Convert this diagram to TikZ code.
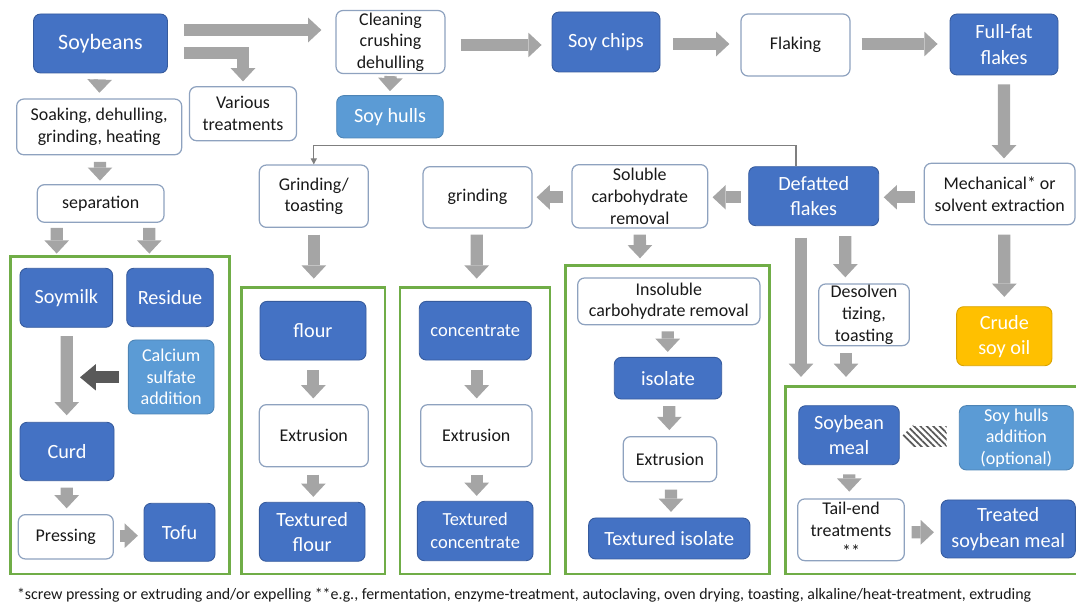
\documentclass[tikz,border=0pt]{standalone}
\usepackage{fontspec}
\setmainfont{Carlito}
\usetikzlibrary{arrows.meta}
\usetikzlibrary{shapes.arrows}
\usetikzlibrary{patterns.meta}
\usetikzlibrary{calc}

\definecolor{prodblue}{HTML}{4472C4}
\definecolor{addblue}{HTML}{5B9BD5}
\definecolor{stepline}{HTML}{8EA2BF}
\definecolor{flowgray}{HTML}{A5A5A5}
\definecolor{darkflow}{HTML}{595959}
\definecolor{framegreen}{HTML}{70AD47}
\definecolor{oilyellow}{HTML}{FFC000}
\definecolor{linkgray}{HTML}{7F7F7F}

\begin{document}
\begin{tikzpicture}[x=0.02cm, y=-0.02cm,
    sz/.style 2 args={minimum width=#1*0.02cm, minimum height=#2*0.02cm},
    box/.style={rectangle, rounded corners=4pt, align=center, inner sep=0pt},
    proc/.style={box, draw=stepline, line width=0.7pt, fill=white, text=black!90,
        font=\fontsize{10.2}{12.3}\selectfont},
    prod/.style={box, draw=prodblue!80!black, line width=0.5pt, fill=prodblue, text=white,
        font=\fontsize{11.5}{14.4}\selectfont},
    addit/.style={box, draw=addblue!85!black, line width=0.5pt, fill=addblue, text=white,
        font=\fontsize{10.3}{12.3}\selectfont},
    oil/.style={box, draw=oilyellow!85!black, line width=0.5pt, fill=oilyellow, text=white,
        font=\fontsize{11.5}{14.2}\selectfont},
    frame/.style={draw=framegreen, line width=1.5pt},
    flow/.style={draw=flowgray, line width=7pt, -{Triangle[length=7.5pt,width=14pt,line width=0pt]}},
    flowdark/.style={flow, draw=darkflow, -{Triangle[length=9pt,width=15pt,line width=0pt]}},
    link/.style={draw=linkgray, line width=0.7pt, -{Triangle[length=3.5pt,width=3.5pt]}},
    hatch/.style={single arrow, shape border rotate=180, draw=none, inner xsep=0pt, inner ysep=0.19cm,
        minimum height=45*0.02cm, single arrow head extend=0.03cm,
        pattern={Lines[angle=-45,distance=2.6pt,line width=1pt]}, pattern color=darkflow}
]
\useasboundingbox (0,0) rectangle (1076,604);

% green frames
\draw[frame] (10.7,256.7) rectangle (229.3,574);
\draw[frame] (241.7,287.3) rectangle (385,574);
\draw[frame] (400,287.3) rectangle (550,574);
\draw[frame] (565.3,265.7) rectangle (769.3,574);
\draw[frame] (1076,386.7) -- (785.3,386.7) -- (785.3,574) -- (1076,574);

% top row
\node[prod, sz={134}{59}, font=\fontsize{12.5}{15}\selectfont] (soy) at (100.5,43.5) {Soybeans};
\node[proc, sz={109}{63}] (clean) at (390.5,42) {Cleaning\\crushing\\dehulling};
\node[addit, sz={106.6}{42.3}, font=\fontsize{11.5}{14}\selectfont] (hulls) at (390,116.8) {Soy hulls};
\node[prod, sz={108}{60}] (chips) at (606,42) {Soy chips};
\node[proc, sz={109}{62}] (flaking) at (795.5,45) {Flaking};
\node[prod, sz={108}{61}] (fullfat) at (1004,44.5) {Full-fat\\flakes};

% second row
\node[proc, sz={150.7}{61.4}] (mech) at (999.65,194) {Mechanical* or\\solvent extraction};
\node[prod, sz={130}{59}] (defat) at (813.7,196.2) {Defatted\\flakes};
\node[proc, sz={135.7}{63.3}] (soluble) at (639.8,196.3) {Soluble\\carbohydrate\\removal};
\node[proc, sz={109}{61.3}] (grind) at (477.5,197.3) {grinding};
\node[proc, sz={109}{62.3}] (gtoast) at (313.8,196.2) {Grinding/\\toasting};
\node[proc, sz={165}{55.7}] (soak) at (99.2,126.9) {Soaking, dehulling,\\grinding, heating};
\node[proc, sz={107}{54}] (various) at (243,113.7) {Various\\treatments};
\node[proc, sz={126.7}{37.6}] (sep) at (100.7,203.5) {separation};

% tofu
\node[prod, sz={92.7}{59}] (soymilk) at (66.3,297.8) {Soymilk};
\node[prod, sz={86.6}{58.4}] (residue) at (170,297.5) {Residue};
\node[addit, sz={85.7}{74}] (calcium) at (171.2,377) {Calcium\\sulfate\\addition};
\node[prod, sz={94}{58.4}] (curd) at (67,451.5) {Curd};
\node[proc, sz={95}{44.3}] (pressing) at (65.8,536.8) {Pressing};
\node[prod, sz={71}{58}] (tofu) at (179.5,532.3) {Tofu};
\coordinate (mix) at (80,377.3);

% flour and concentrate
\node[prod, sz={106}{58.7}] (flour) at (313,330.7) {flour};
\node[proc, sz={109}{62}] (extflour) at (313.8,435.7) {Extrusion};
\node[prod, sz={105.7}{59}] (tflour) at (312.2,531.8) {Textured\\flour};
\node[prod, sz={112}{58.7}, font=\fontsize{10.5}{13}\selectfont] (conc) at (475.3,330.7) {concentrate};
\node[proc, sz={111.3}{62}] (extconc) at (476.3,435.7) {Extrusion};
\node[prod, sz={115.7}{59.4}, font=\fontsize{10.5}{13}\selectfont] (tconc) at (475.2,531) {Textured\\concentrate};

% isolate
\node[proc, sz={182.3}{46.7}] (insol) at (668.8,301.3) {Insoluble\\carbohydrate removal};
\node[prod, sz={107.4}{41.7}] (isolate) at (668,378.2) {isolate};
\node[proc, sz={93.4}{45}] (extiso) at (670,459.2) {Extrusion};
\node[prod, sz={161.3}{41}] (tiso) at (669.3,538.5) {Textured isolate};

% meal and oil
\node[proc, sz={90.6}{61.7}] (desolv) at (864,314.8) {Desolven\\tizing,\\toasting};
\node[oil, sz={95.3}{59}] (crude) at (1004.3,336.2) {Crude\\soy oil};
\node[prod, sz={100.6}{59}] (meal) at (849,435.2) {Soybean\\meal};
\node[addit, sz={114}{64.3}] (hulladd) at (1016.3,437.8) {Soy hulls\\addition\\(optional)};
\node[proc, sz={106.6}{61.7}] (tail) at (851,529.8) {Tail-end\\treatments\\**};
\node[prod, sz={134.3}{58}] (treated) at (1008.2,529) {Treated\\soybean meal};

% arrows
\draw[flow] ($(soy.east)+(16,-13.5)$) -- ($(clean.west)+(-14,-12)$);
\draw[flow] ($(soy.east)+(16,9.5)$) -| ($(various.north)+(0,-4.7)$);
\draw[flow] ($(clean.south)+(0,2)$) -- ($(hulls.north)+(0,-4)$);
\draw[flow] ($(clean.east)+(15,3)$) -- ($(chips.west)+(-10,3)$);
\draw[flow] ($(chips.east)+(13,2)$) -- ($(flaking.west)+(-11,-1)$);
\draw[flow] ($(flaking.east)+(11,-1)$) -- ($(fullfat.west)+(-12,-0.5)$);
\draw[flow] ($(fullfat.south)+(0,9)$) -- ($(mech.north)+(4.35,-4.3)$);
\draw[flow] ($(mech.west)+(-9,3.3)$) -- ($(defat.east)+(4.6,1.1)$);
\draw[flow] ($(defat.west)+(-7.7,1.1)$) -- ($(soluble.east)+(4.3,1)$);
\draw[flow] ($(soluble.west)+(-8,1)$) -- ($(grind.east)+(4,0)$);
\draw[link] ($(defat.north)+(-17.7,0)$) -- ++(0,-21) -| (gtoast.north);
\draw[flow] ($(gtoast.south)+(0,6.7)$) -- ($(flour.north)+(0.8,-22.3)$);
\draw[flow] ($(grind.south)+(-0.8,6)$) -- ($(conc.north)+(1.4,-22.3)$);
\draw[flow] ($(soluble.south)+(0,6)$) -- ($(insol.north)+(-28.8,-19)$);
\draw[flow] ($(soy.south)+(-1,13)$) -- ($(soak.north)+(0.1,-5.7)$);
\draw[flow] ($(soak.south)+(0.8,6.6)$) -- ($(sep.north)+(-0.7,-3.4)$);
\draw[flow] ($(sep.south)+(-44,5)$) -- ($(soymilk.north)+(-9.6,-14.3)$);
\draw[flow] ($(sep.south)+(48.6,5)$) -- ($(residue.north)+(-20.7,-14.3)$);
\draw[flow] ($(soymilk.south)+(0.4,8.4)$) -- ($(curd.north)+(-0.3,-6.6)$);
\draw[flowdark] ($(calcium.west)+(-9,0.3)$) -- (mix);
\draw[flow] ($(curd.south)+(-0.3,6.6)$) -- ($(pressing.north)+(0.9,-5.7)$);
\draw[flow] ($(pressing.east)+(6,-1.1)$) -- ($(tofu.west)+(-5.7,3.4)$);
\draw[flow] ($(flour.south)+(0.3,10)$) -- ($(extflour.north)+(-0.5,-5.7)$);
\draw[flow] ($(extflour.south)+(-0.5,7.3)$) -- ($(tflour.north)+(1.1,-5)$);
\draw[flow] ($(conc.south)+(1.4,10)$) -- ($(extconc.north)+(0.4,-5.7)$);
\draw[flow] ($(extconc.south)+(0.4,7.3)$) -- ($(tconc.north)+(1.5,-5)$);
\draw[flow] ($(insol.south)+(-1.1,6)$) -- ($(isolate.north)+(-0.3,-5)$);
\draw[flow] ($(isolate.south)+(1.3,6.7)$) -- ($(extiso.north)+(-0.7,-6)$);
\draw[flow] ($(extiso.south)+(1,7.3)$) -- ($(tiso.north)+(1.7,-5.7)$);
\draw[flow] ($(defat.south)+(-12.7,11.6)$) -- ($(meal.north)+(-48,-28.4)$);
\draw[flow] ($(defat.south)+(31.6,10)$) -- ($(desolv.north)+(-18.7,-6)$);
\draw[flow] ($(desolv.south)+(-18,6.6)$) -- ($(meal.north)+(-3,-28.4)$);
\draw[flow] ($(mech.south)+(4.65,9.3)$) -- ($(crude.north)+(0,-9.4)$);
\draw[flow] ($(meal.south)+(0.3,9.3)$) -- ($(tail.north)+(-1.7,-6.7)$);
\draw[flow] ($(tail.east)+(6.7,2.5)$) -- ($(treated.west)+(-6.7,3.3)$);
\path (hulladd.west) -- node[hatch] (hatcharrow) {} (meal.east);

\node[anchor=west, inner sep=0pt, text=black!90, font=\fontsize{9.05}{10}\selectfont] (note) at (16.7,595.7)
    {*screw pressing or extruding and/or expelling **e.g., fermentation, enzyme-treatment, autoclaving, oven drying, toasting, alkaline/heat-treatment, extruding};
\end{tikzpicture}
\end{document}
